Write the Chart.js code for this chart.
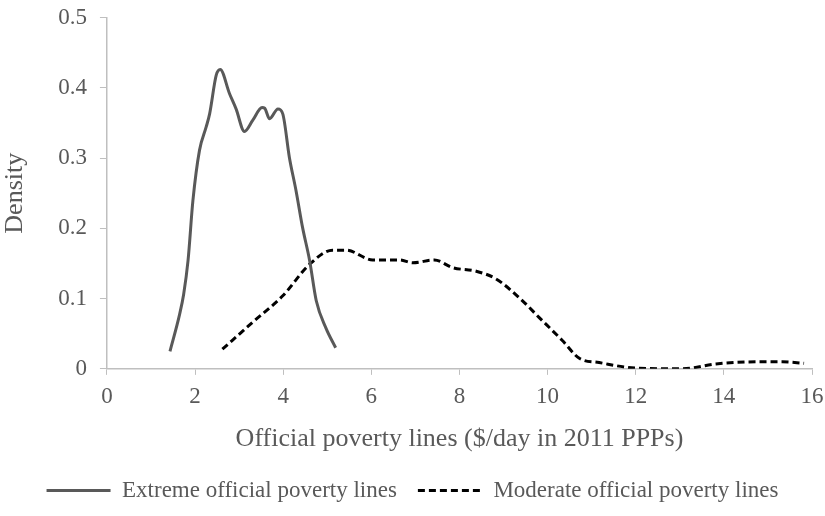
<!DOCTYPE html>
<html><head><meta charset="utf-8">
<script src="https://cdn.jsdelivr.net/npm/chart.js@4/dist/chart.umd.min.js"></script>
<style>html,body{margin:0;padding:0;background:#fff}#wrap{width:825px;height:516px}</style>
</head><body><div id="wrap"><canvas id="c"></canvas></div>
<script>
const extremeX = [1.43,1.65,1.74,1.84,1.95,2.10,2.25,2.33,2.48,2.57,2.78,2.93,3.12,3.31,3.52,3.58,3.69,3.88,3.99,4.14,4.29,4.44,4.60,4.75,4.97,5.19];
const extremeY = [0.025,0.078,0.106,0.154,0.239,0.311,0.344,0.363,0.418,0.426,0.392,0.370,0.338,0.354,0.372,0.371,0.356,0.370,0.363,0.301,0.254,0.201,0.154,0.097,0.058,0.030];
const moderateX = [2.62,3.30,3.99,4.60,5.12,5.43,6.03,6.64,6.94,7.43,7.85,8.38,8.83,9.36,9.81,10.34,10.72,11.17,12.0,13.06,13.82,14.8,15.33,15.82];
const moderateY = [0.028,0.066,0.104,0.149,0.169,0.169,0.155,0.155,0.151,0.155,0.144,0.139,0.128,0.101,0.073,0.040,0.015,0.009,0.001,0.000,0.007,0.010,0.010,0.008];
const xTicks = [0,2,4,6,8,10,12,14,16];
const yTicks = [0,0.1,0.2,0.3,0.4,0.5];
const seriesNames = ['Extreme official poverty lines','Moderate official poverty lines'];
const xTitle = 'Official poverty lines ($/day in 2011 PPPs)';
const yTitle = 'Density';

const toPts = (xs, ys) => xs.map((x, i) => ({x, y: ys[i]}));
const fam = "'Liberation Serif', serif";
const tickFont = {family: fam, size: 23};
const xTickFont = {family: fam, size: 23, lineHeight: 1.78};
const yTickFont = {family: fam, size: 23, lineHeight: 0.4};
const titleFont = {family: fam, size: 26};
new Chart(document.getElementById('c'), {
  type: 'line',
  data: {datasets: [
    {label: seriesNames[0], data: toPts(extremeX, extremeY), borderColor: '#595959', borderWidth: 3, pointRadius: 0, tension: 0.4, cubicInterpolationMode: 'monotone', fill: false},
    {label: seriesNames[1], data: toPts(moderateX, moderateY), borderColor: '#000000', borderWidth: 3, borderDash: [7,4], pointRadius: 0, tension: 0.4, cubicInterpolationMode: 'monotone', fill: false}
  ]},
  options: {
    responsive: true, maintainAspectRatio: false, animation: false,
    layout: {padding: {top: 0, right: 0, left: 0, bottom: 4}},
    scales: {
      x: {type: 'linear', min: 0, max: 16,
        afterBuildTicks: a => { a.ticks = xTicks.map(v => ({value: v})); },
        ticks: {color: '#595959', font: xTickFont, padding: 1.5, maxRotation: 0},
        grid: {display: true, drawOnChartArea: false, drawTicks: true, tickLength: 6, color: '#bfbfbf', lineWidth: 1},
        border: {color: '#bfbfbf', width: 1.5},
        title: {display: true, text: xTitle, color: '#595959', font: titleFont, padding: {top: 5, bottom: 3}}
      },
      y: {min: 0, max: 0.5,
        afterBuildTicks: a => { a.ticks = yTicks.map(v => ({value: v})); },
        ticks: {color: '#595959', font: yTickFont, padding: 13, callback: v => String(Math.round(v*10)/10)},
        grid: {display: true, drawOnChartArea: false, drawTicks: true, tickLength: 7, color: '#bfbfbf', lineWidth: 1},
        border: {color: '#bfbfbf', width: 1.5},
        title: {display: true, text: yTitle, color: '#595959', font: titleFont, padding: {top: 0, bottom: 14}}
      }
    },
    plugins: {
      legend: {position: 'bottom',
        labels: {color: '#595959', font: tickFont, usePointStyle: true, pointStyle: 'line', pointStyleWidth: 64, padding: 21,
          generateLabels: chart => Chart.defaults.plugins.legend.labels.generateLabels(chart).map(l => {
            const ds = chart.data.datasets[l.datasetIndex];
            l.lineDash = ds.borderDash || [];
            l.lineWidth = ds.borderWidth;
            l.strokeStyle = ds.borderColor;
            return l;
          })}},
      tooltip: {enabled: false}
    }
  }
});
</script></body></html>
